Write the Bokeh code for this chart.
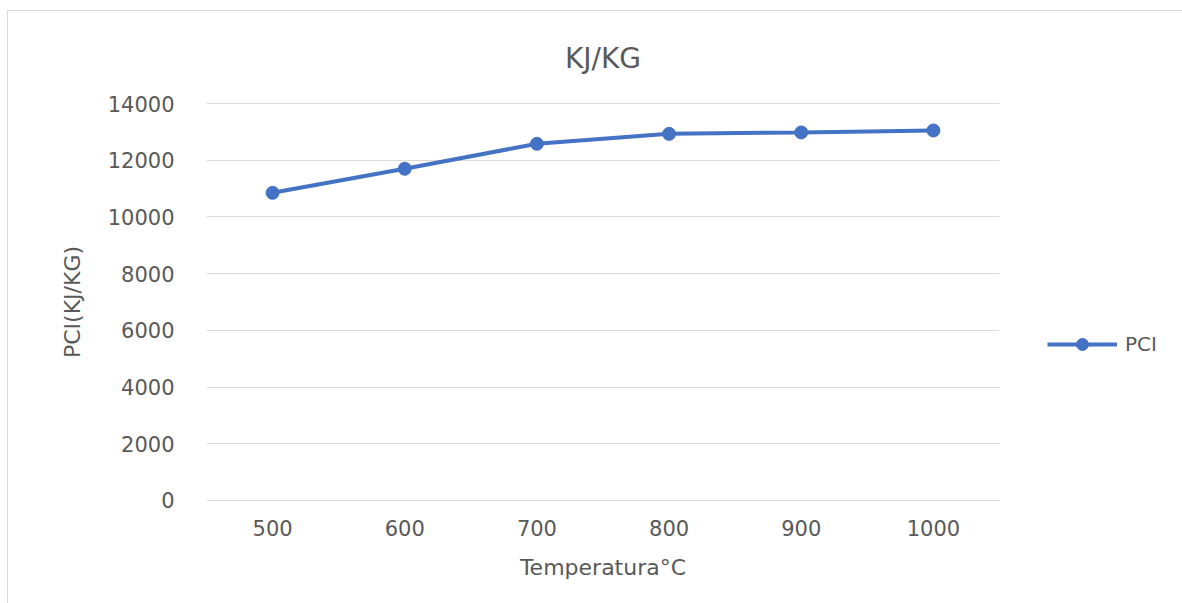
from bokeh.plotting import figure
from bokeh.models import ColumnDataSource, Legend, LegendItem, FixedTicker, Spacer, Range1d
from bokeh.layouts import column, row
from bokeh.embed import file_html
from bokeh.resources import INLINE

# data
temperatures = ["500", "600", "700", "800", "900", "1000"]
pci_values = [10850, 11700, 12580, 12930, 12980, 13050]
y_ticks = [0, 2000, 4000, 6000, 8000, 10000, 12000, 14000]
series_name = "PCI"
title_text = "KJ/KG"
x_title = "Temperatura°C"
y_title = "PCI(KJ/KG)"

FONT = "DejaVu Sans"
TXT = "#595959"
BLUE = "#4472C4"
BORDER = "1px solid #d9d9d9"

src = ColumnDataSource(dict(x=temperatures, y=pci_values))

# main chart: page x 7..1020, frame 205..998 (x), 101..500 (y)
p = figure(width=1013, height=593, x_range=temperatures, y_range=Range1d(-36, 14036),
           output_backend="svg", toolbar_location=None,
           min_border_left=198, min_border_right=22, min_border_top=91, min_border_bottom=103)
p.outline_line_color = None
p.background_fill_color = "white"
p.border_fill_color = "white"
p.styles = {"border-left": BORDER, "border-top": BORDER}

p.title.text = title_text
p.title.align = "center"
p.title.vertical_align = "middle"
p.title.text_font = FONT
p.title.text_font_size = "28px"
p.title.text_font_style = "normal"
p.title.text_color = TXT
p.title.offset = 0
p.title.standoff = 54

r_line = p.line("x", "y", source=src, line_color=BLUE, line_width=4)
r_pts = p.scatter("x", "y", source=src, size=13, fill_color=BLUE, line_color=BLUE, marker="circle")

p.xgrid.grid_line_color = None
p.ygrid.grid_line_color = "#d9d9d9"
p.ygrid.grid_line_width = 1
p.yaxis.ticker = FixedTicker(ticks=y_ticks)

for ax in (p.xaxis, p.yaxis):
    ax.axis_line_color = None
    ax.major_tick_line_color = None
    ax.minor_tick_line_color = None
    ax.major_label_text_font = FONT
    ax.major_label_text_font_size = "21px"
    ax.major_label_text_color = TXT
    ax.axis_label_text_font = FONT
    ax.axis_label_text_font_size = "22px"
    ax.axis_label_text_font_style = "normal"
    ax.axis_label_text_color = TXT

p.xaxis.axis_label = x_title
p.yaxis.axis_label = y_title
p.xaxis.major_label_standoff = 12
p.xaxis.axis_label_standoff = 16
p.yaxis.major_label_standoff = 26
p.yaxis.axis_label_standoff = 20

# legend area: page x 1020..1182
pl = figure(width=162, height=593, x_range=(0, 1), y_range=(0, 1),
            output_backend="svg", toolbar_location=None,
            min_border_left=0, min_border_right=0, min_border_top=0, min_border_bottom=0)
pl.axis.visible = False
pl.grid.visible = False
pl.outline_line_color = None
pl.border_fill_color = "white"
pl.styles = {"border-top": BORDER}
nan = float("nan")
dummy = ColumnDataSource(dict(x=[nan], y=[nan]))
lg_line = pl.line("x", "y", source=dummy, line_color=BLUE, line_width=4)
lg_pts = pl.scatter("x", "y", source=dummy, size=13, fill_color=BLUE, line_color=BLUE, marker="circle")

legend = Legend(items=[LegendItem(label=series_name, renderers=[lg_line, lg_pts])],
                location=(27, 142), orientation="vertical")
legend.border_line_color = None
legend.background_fill_alpha = 0
legend.label_text_font = FONT
legend.label_text_font_size = "20px"
legend.label_text_color = TXT
legend.glyph_width = 70
legend.glyph_height = 30
legend.label_standoff = 8
legend.padding = 0
legend.margin = 0
pl.add_layout(legend, "center")

layout = row(Spacer(width=7), column(Spacer(height=10), row(p, pl)))
open("out.html", "w").write(file_html(layout, INLINE))
